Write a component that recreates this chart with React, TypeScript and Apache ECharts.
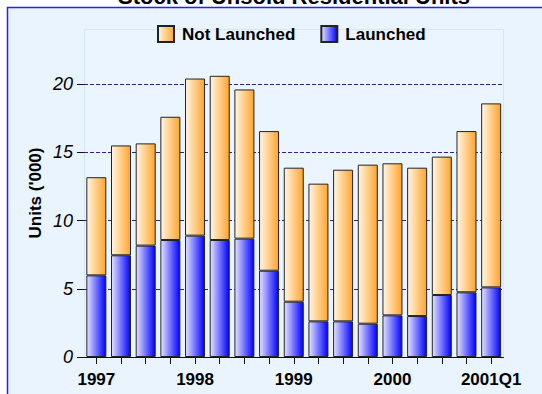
import React, { useEffect, useRef } from "react";
import * as echarts from "echarts";

const categories = [
  "1997Q1", "1997Q2", "1997Q3", "1997Q4",
  "1998Q1", "1998Q2", "1998Q3", "1998Q4",
  "1999Q1", "1999Q2", "1999Q3", "1999Q4",
  "2000Q1", "2000Q2", "2000Q3", "2000Q4",
  "2001Q1",
];
const xTickLabels = [
  "1997", "", "", "",
  "1998", "", "", "",
  "1999", "", "", "",
  "2000", "", "", "",
  "2001Q1",
];
const launched = [5.98, 7.45, 8.16, 8.57, 8.89, 8.57, 8.67, 6.32, 4.05, 2.61, 2.61, 2.44, 3.05, 3.0, 4.54, 4.74, 5.1];
const notLaunched = [7.19, 8.05, 7.49, 9.03, 11.51, 12.03, 10.93, 10.23, 9.82, 10.09, 11.11, 11.65, 11.14, 10.87, 10.14, 11.81, 13.48];
const yTicks = [0, 5, 10, 15, 20];

const FONT = "'Liberation Sans', Arial, sans-serif";

export default function App() {
  const ref = useRef<HTMLDivElement>(null);
  useEffect(() => {
    if (!ref.current) return;
    const chart = echarts.init(ref.current, null, { renderer: "svg" });
    const orange = {
      type: "linear", x: 0, y: 0, x2: 1, y2: 0,
      colorStops: [
        { offset: 0, color: "#FFF6E4" },
        { offset: 1, color: "#FFA42C" },
      ],
    };
    const blue = {
      type: "linear", x: 0, y: 0, x2: 1, y2: 0,
      colorStops: [
        { offset: 0, color: "#E4E4FF" },
        { offset: 1, color: "#0000FF" },
      ],
    };
    chart.setOption({
      animation: false,
      backgroundColor: "#FFFFFF",
      graphic: [
        {
          type: "rect",
          z: -20,
          silent: true,
          shape: { x: 7.5, y: 7.5, width: 600, height: 500 },
          style: { fill: "#E9F4FE", stroke: "#2222FF", lineWidth: 1.5 },
        },
        {
          type: "rect",
          z: -19,
          silent: true,
          shape: { x: 84.5, y: 29.5, width: 419, height: 327.5 },
          style: { fill: "#EBF5FF", stroke: "#D4E6F8", lineWidth: 1 },
        },
        {
          type: "text",
          x: 294,
          y: -4,
          style: {
            text: "Stock of Unsold Residential Units",
            font: `bold 22px ${FONT}`,
            fill: "#000",
            textAlign: "center",
            textVerticalAlign: "middle",
          },
        },
        {
          type: "text",
          x: 35,
          y: 193,
          rotation: Math.PI / 2,
          style: {
            text: "Units ('000)",
            font: `bold 17px ${FONT}`,
            fill: "#000",
            textAlign: "center",
            textVerticalAlign: "middle",
          },
        },
      ],
      legend: {
        data: ["Not Launched", "Launched"],
        left: 157,
        top: 25,
        padding: 0,
        icon: "rect",
        itemWidth: 16,
        itemHeight: 16,
        itemGap: 25,
        textStyle: {
          fontFamily: FONT,
          fontWeight: "bold",
          fontSize: 17,
          color: "#000",
          padding: [0, 0, 0, 3],
        },
      },
      grid: {
        left: 84,
        right: 38.5,
        top: 84,
        bottom: 37,
        containLabel: false,
      },
      xAxis: {
        type: "category",
        data: categories,
        axisLine: { show: true, lineStyle: { color: "#111", width: 1 } },
        axisTick: {
          show: true,
          alignWithLabel: true,
          interval: 0,
          length: 7,
          lineStyle: { color: "#111" },
        },
        axisLabel: {
          interval: 0,
          margin: 14,
          fontFamily: FONT,
          fontWeight: "bold",
          fontSize: 17,
          color: "#000",
          formatter: (_v: string, i: number) => xTickLabels[i],
        },
        splitLine: { show: false },
      },
      yAxis: {
        type: "value",
        min: yTicks[0],
        max: yTicks[yTicks.length - 1],
        interval: 5,
        axisLine: { show: false },
        axisTick: { show: true, length: 7, lineStyle: { color: "#111" } },
        axisLabel: {
          margin: 11,
          fontFamily: FONT,
          fontStyle: "italic",
          fontSize: 18,
          color: "#000",
        },
        splitLine: {
          show: true,
          lineStyle: { color: "#351C8F", type: [4, 2], width: 1 },
        },
      },
      series: [
        {
          name: "Launched",
          type: "bar",
          stack: "total",
          data: launched,
          barWidth: 20,
          clip: false,
          itemStyle: { color: blue, borderColor: "#222", borderWidth: 1 },
        },
        {
          name: "Not Launched",
          type: "bar",
          stack: "total",
          data: notLaunched,
          barWidth: 20,
          clip: false,
          itemStyle: { color: orange, borderColor: "#222", borderWidth: 1 },
        },
      ],
    });
    return () => chart.dispose();
  }, []);
  return <div ref={ref} style={{ width: 542, height: 394, position: "absolute", left: 0, top: 0 }} />;
}
